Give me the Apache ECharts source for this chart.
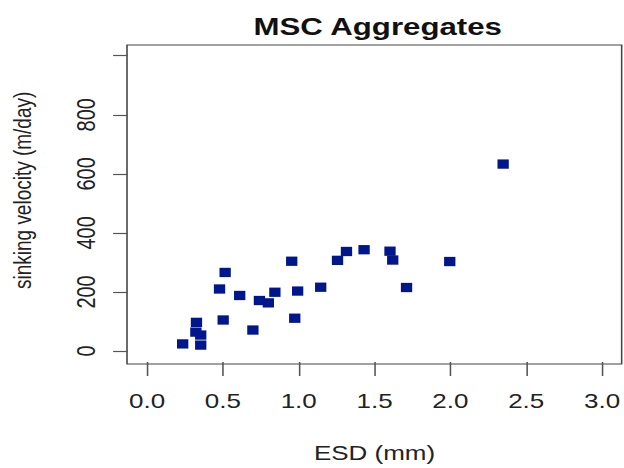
<!DOCTYPE html>
<html>
<head>
<meta charset="utf-8">
<script src="https://cdn.jsdelivr.net/npm/echarts@6/dist/echarts.min.js"></script>
<style>
  html, body { margin: 0; padding: 0; background: #fff; overflow: hidden; }
  #wrap { width: 624px; height: 468px; overflow: hidden; }
  /* plot is laid out on a 480px wide canvas and stretched to the window width */
  #chart { width: 480px; height: 468px; transform: scaleX(1.3); transform-origin: 0 0; }
</style>
</head>
<body>
<div id="wrap"><div id="chart"></div></div>
<script>
// Aggregate size (equivalent spherical diameter) vs. sinking velocity
const esd = [0.235, 0.326, 0.322, 0.354, 0.354, 0.478, 0.515, 0.502, 0.611, 0.698,
             0.741, 0.800, 0.843, 0.954, 0.993, 0.974, 1.145, 1.256, 1.315, 1.431,
             1.602, 1.620, 1.711, 1.996, 2.348];
const velocity = [24, 97, 64, 54, 20, 210, 266, 105, 188, 71,
                  171, 163, 199, 304, 203, 111, 216, 307, 337, 343,
                  338, 308, 215, 303, 633];

const xTicks = [0, 0.5, 1, 1.5, 2, 2.5, 3];
const xTickLabels = ['0.0', '0.5', '1.0', '1.5', '2.0', '2.5', '3.0'];
const yTicks = [0, 200, 400, 600, 800, 1000];
const yTickLabels = ['0', '200', '400', '600', '800', ''];

const chartTitle = 'MSC Aggregates';
const xTitle = 'ESD (mm)';
const yTitle = 'sinking velocity (m/day)';

const points = esd.map((x, i) => [x, velocity[i]]);
const FONT = '"Liberation Sans", Arial, Helvetica, sans-serif';

const chart = echarts.init(document.getElementById('chart'), null, { renderer: 'svg' });
chart.setOption({
  backgroundColor: '#fff',
  animation: false,
  title: {
    text: chartTitle,
    left: 285.5,
    top: 10,
    textAlign: 'center',
    textStyle: { fontFamily: FONT, fontSize: 24, fontWeight: 'bold', color: '#111' }
  },
  grid: [
    // plot frame
    { left: 97.7, top: 45, width: 380.5, height: 319, show: true,
      borderColor: '#444', borderWidth: 1.2, backgroundColor: 'transparent' },
    // data region
    { left: 112.8, top: 55.7, width: 353.9, height: 297.6 }
  ],
  xAxis: [
    { gridIndex: 0, type: 'value', show: false, min: 0, max: 1 },
    {
      gridIndex: 1, type: 'value', min: 0, max: 3, interval: 0.5,
      offset: 11,
      name: xTitle, nameLocation: 'middle', nameGap: 81,
      nameTextStyle: { fontFamily: FONT, fontSize: 20, color: '#222' },
      axisLine: { show: false, onZero: false },
      axisTick: { show: true, length: 14, lineStyle: { color: '#555', width: 1.2 } },
      axisLabel: {
        margin: 29, fontFamily: FONT, fontSize: 20, color: '#222',
        formatter: v => xTickLabels[xTicks.indexOf(v)] ?? ''
      },
      splitLine: { show: false }
    }
  ],
  yAxis: [
    { gridIndex: 0, type: 'value', show: false, min: 0, max: 1 },
    {
      gridIndex: 1, type: 'value', min: 0, max: 1000, interval: 200,
      offset: 15.1,
      name: yTitle, nameLocation: 'middle', nameGap: 71,
      nameTextStyle: { fontFamily: FONT, fontSize: 19, color: '#222', padding: [0, 0, 0, 26] },
      axisLine: { show: false, onZero: false },
      axisTick: { show: true, length: 11, lineStyle: { color: '#555', width: 1.2 } },
      axisLabel: {
        rotate: 90, margin: 22, fontFamily: FONT, fontSize: 20, color: '#222',
        formatter: v => yTickLabels[yTicks.indexOf(v)] ?? ''
      },
      splitLine: { show: false }
    }
  ],
  series: [{
    type: 'scatter',
    xAxisIndex: 1, yAxisIndex: 1,
    data: points,
    symbol: 'rect',
    symbolSize: [8.7, 9.3],
    clip: false,
    itemStyle: { color: '#00168c', opacity: 1 }
  }]
});
</script>
</body>
</html>
